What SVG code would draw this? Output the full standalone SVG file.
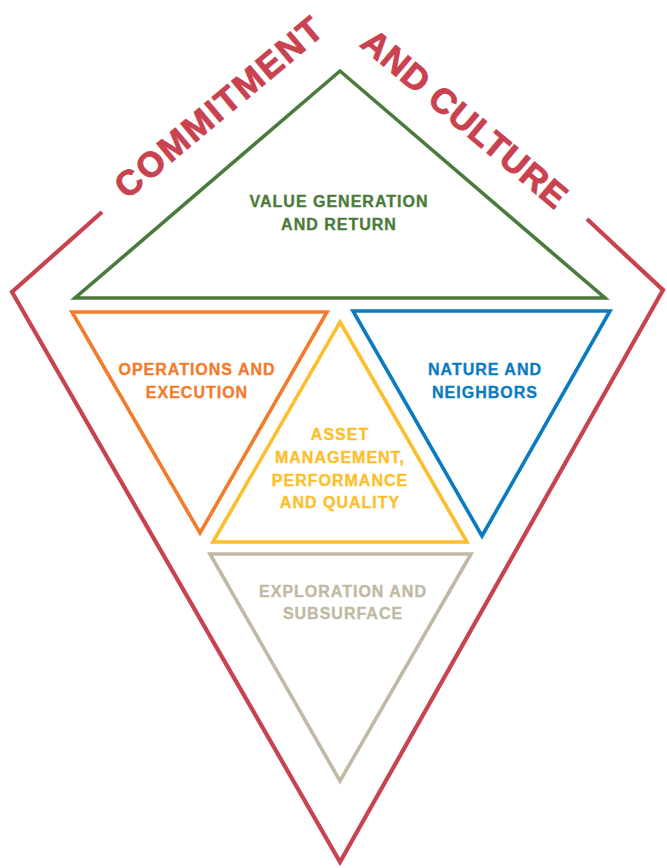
<svg xmlns="http://www.w3.org/2000/svg" width="667" height="868" viewBox="0 0 667 868">
<style>
.tri{fill:none;stroke-width:3.6;stroke-linejoin:miter;stroke-miterlimit:12}
.lbl{font-family:"Liberation Sans",Arial,sans-serif;font-weight:bold;font-size:16px;letter-spacing:1px;text-anchor:middle;stroke-width:0.35}
.ttl{font-family:"Liberation Sans",Arial,sans-serif;font-weight:bold;font-size:35px;text-anchor:middle;fill:#c9424f;stroke:#c9424f;stroke-width:0.9}
</style>
<rect width="667" height="868" fill="#ffffff"/>
<g id="frame">
<path d="M102,212 L12,292 L340,862 L663,290 L587,219" fill="none" stroke="#c9424f" stroke-width="4.2" stroke-linejoin="miter" stroke-miterlimit="12"/>
<text class="ttl" transform="translate(227,116) rotate(-40)" letter-spacing="2">COMMITMENT</text>
<text class="ttl" transform="translate(457,128) rotate(40)" letter-spacing="0.6">AND CULTURE</text>
</g>
<g id="value">
<path class="tri" d="M340,71 L605,298 L75,298 Z" stroke="#4b7b3b"/>
<text class="lbl" fill="#4b7b3b" stroke="#4b7b3b"><tspan x="339" y="207">VALUE GENERATION</tspan><tspan x="339" y="230">AND RETURN</tspan></text>
</g>
<g id="operations">
<path class="tri" d="M72,312 L327,312 L200,533 Z" stroke="#f47a2c"/>
<text class="lbl" fill="#f47a2c" stroke="#f47a2c"><tspan x="197" y="375">OPERATIONS AND</tspan><tspan x="197" y="398">EXECUTION</tspan></text>
</g>
<g id="nature">
<path class="tri" d="M353,311 L610,311 L482,536 Z" stroke="#0b7bbf"/>
<text class="lbl" fill="#0b7bbf" stroke="#0b7bbf"><tspan x="485" y="375">NATURE AND</tspan><tspan x="485" y="398">NEIGHBORS</tspan></text>
</g>
<g id="asset">
<path class="tri" d="M340,322 L467,542 L213,542 Z" stroke="#fcbf2b"/>
<text class="lbl" fill="#fcbf2b" stroke="#fcbf2b"><tspan x="340" y="440">ASSET</tspan><tspan x="340" y="463">MANAGEMENT,</tspan><tspan x="340" y="486">PERFORMANCE</tspan><tspan x="340" y="508">AND QUALITY</tspan></text>
</g>
<g id="exploration">
<path class="tri" d="M210,554 L471,554 L340,781 Z" stroke="#c0b9a3"/>
<text class="lbl" fill="#c0b9a3" stroke="#c0b9a3"><tspan x="343" y="597">EXPLORATION AND</tspan><tspan x="343" y="619">SUBSURFACE</tspan></text>
</g>
<g id="connectors"></g>
</svg>
